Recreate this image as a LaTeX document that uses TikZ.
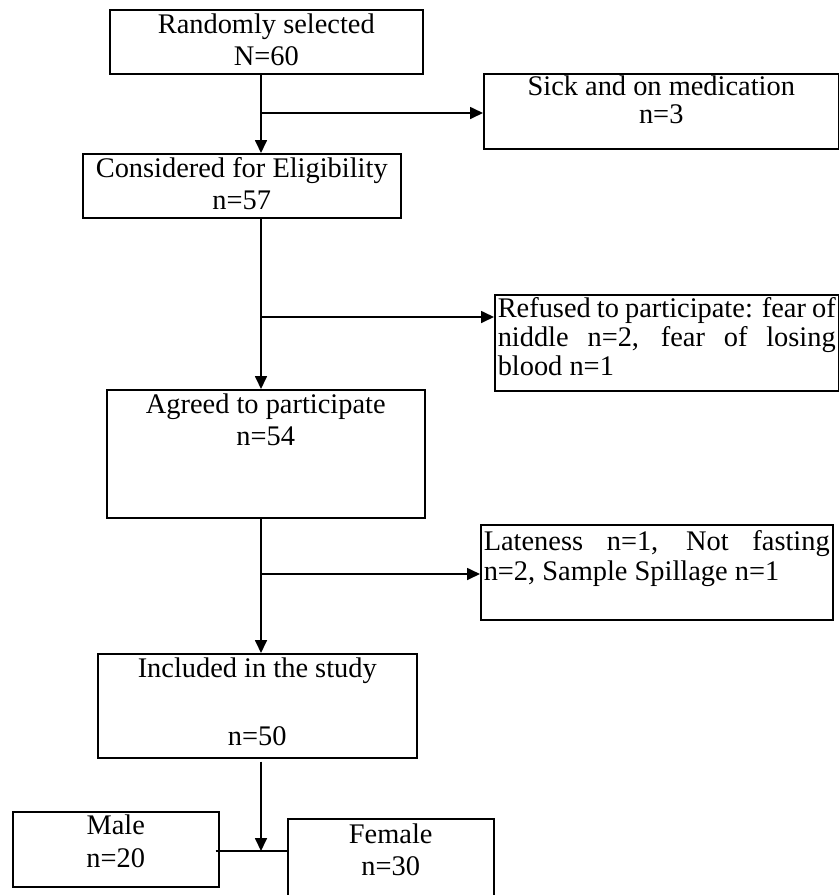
\documentclass[tikz,border=0pt]{standalone}
\usepackage{fontspec}
\setmainfont{Liberation Serif}
\usetikzlibrary{arrows.meta}
\newcommand\bxc[4]{\parbox[c][#2][t]{#1}{\centering\rule{0pt}{#3}#4}}
\newcommand\bxj[4]{\parbox[c][#2][t]{#1}{\rule{0pt}{#3}#4}}
\hbadness=10000 \hfuzz=5pt
\tikzset{
  box/.style={draw, line width=0.75pt, inner xsep=1.5pt, inner ysep=0pt, anchor=north west},
  txt/.style={font=\fontsize{14.2pt}{16pt}\selectfont},
  arr/.style={line width=0.85pt, -{Triangle[length=6.5pt,width=6pt]}},
  ln/.style={line width=0.85pt}
}
\begin{document}
\begin{tikzpicture}[x=0.5pt,y=-0.5pt]
\useasboundingbox (0,0) rectangle (839,895);
\coordinate (t) at (261,0);
\node[box,txt] (b1) at (109,9) {\bxc{153.5pt}{32pt}{12pt}{Randomly selected\\N=60}};
\node[box,font=\fontsize{14.2pt}{14pt}\selectfont] (b2) at (483,73) {\bxc{174.5pt}{37.5pt}{11pt}{Sick and on medication\\n=3}};
\node[box,txt] (b3) at (82,153) {\bxc{156pt}{32pt}{12pt}{Considered for Eligibility\\n=57}};
\node[box,font=\fontsize{14.2pt}{14.5pt}\selectfont] (b4) at (494,294) {\bxj{169pt}{48pt}{11.5pt}{Refused to participate: fear of\linebreak niddle n=2, fear of losing\linebreak blood n=1}};
\node[box,txt] (b5) at (106,389) {\bxc{156pt}{64pt}{12pt}{Agreed to participate\\n=54}};
\node[box,font=\fontsize{14.2pt}{15pt}\selectfont] (b6) at (480,524) {\bxj{173pt}{47.5pt}{13pt}{Lateness n=1, Not fasting\linebreak n=2, Sample Spillage n=1}};
\node[box,txt] (b7) at (97,653) {\bxc{156.5pt}{52pt}{12pt}{Included in the study\\ \mbox{}\\[2pt] n=50}};
\node[box,font=\fontsize{14.2pt}{16.5pt}\selectfont] (male) at (12,811) {\bxc{100pt}{37.5pt}{11.5pt}{Male\\n=20}};
\node[box,txt] (female) at (287,818) {\bxc{100pt}{40pt}{12.5pt}{Female\\n=30}};
% trunk
\coordinate (j1) at (261,113);
\coordinate (j2) at (261,317);
\coordinate (j3) at (261,574);
\coordinate (j4) at (261,851);
\draw[arr] (b1.south -| t) -- (b3.north -| t);
\draw[arr] (j1) -- (j1 -| b2.west);
\draw[arr] (b3.south -| t) -- (b5.north -| t);
\draw[arr] (j2) -- (j2 -| b4.west);
\draw[arr] (b5.south -| t) -- (b7.north -| t);
\draw[arr] (j3) -- (j3 -| b6.west);
\draw[arr] ([yshift=-1.5pt]b7.south -| t) -- (j4);
\draw[ln] ([xshift=-2pt]j4 -| male.east) -- (j4 -| female.west);
\end{tikzpicture}
\end{document}
